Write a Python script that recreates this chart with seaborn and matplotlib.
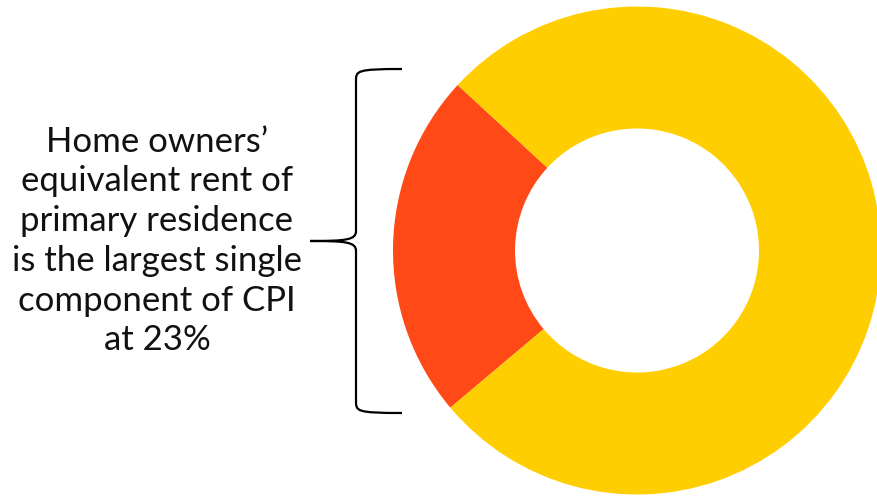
import matplotlib.pyplot as plt
import seaborn as sns
from matplotlib.path import Path
from matplotlib.patches import PathPatch

labels = ["Owners' equivalent rent of primary residence", "All other components"]
shares = [23, 77]
colors = ["#FF4A17", "#FFCE00"]
note = ("Home owners\u2019\nequivalent rent of\nprimary residence\n"
        "is the largest single\ncomponent of CPI\nat 23%")

sns.set_theme(style="white")
plt.rcParams['font.family'] = ['Lato', 'DejaVu Sans']

W, H = 878, 497
fig = plt.figure(figsize=(W / 100, H / 100), dpi=100)

# donut, centre (637, 250) px, radius 244 px
cx, cy, r = 637, 250.5, 244
ax = fig.add_axes([(cx - r) / W, (H - cy - r) / H, 2 * r / W, 2 * r / H])
ax.pie(shares, colors=colors, startangle=137.3, counterclock=True,
       radius=1, wedgeprops=dict(width=0.5, linewidth=0))
ax.set_xlim(-1, 1)
ax.set_ylim(-1, 1)
ax.set_aspect("equal")
ax.axis("off")

# overlay in pixel coordinates for the note and brace
ov = fig.add_axes([0, 0, 1, 1], facecolor="none")
ov.set_xlim(0, W)
ov.set_ylim(H, 0)
ov.axis("off")

ov.text(157, 241, note, ha="center", va="center", fontsize=25,
        linespacing=1.3, color="#111111")

top, mid, bot = 69, 241, 413
xa, xv, xt = 402, 356, 310
verts = [(xa, top), (xv, top), (xv, top + 2), (xv, top + 12),
         (xv, mid - 10),
         (xv, mid - 1), (xv - 10, mid), (xt, mid),
         (xv - 10, mid), (xv, mid + 1), (xv, mid + 10),
         (xv, bot - 12),
         (xv, bot - 2), (xv, bot), (xa, bot)]
codes = [Path.MOVETO, Path.CURVE4, Path.CURVE4, Path.CURVE4,
         Path.LINETO,
         Path.CURVE4, Path.CURVE4, Path.CURVE4,
         Path.CURVE4, Path.CURVE4, Path.CURVE4,
         Path.LINETO,
         Path.CURVE4, Path.CURVE4, Path.CURVE4]
ov.add_patch(PathPatch(Path(verts, codes), fill=False, lw=1.6, color="black"))

fig.savefig("out.png", dpi=100)
